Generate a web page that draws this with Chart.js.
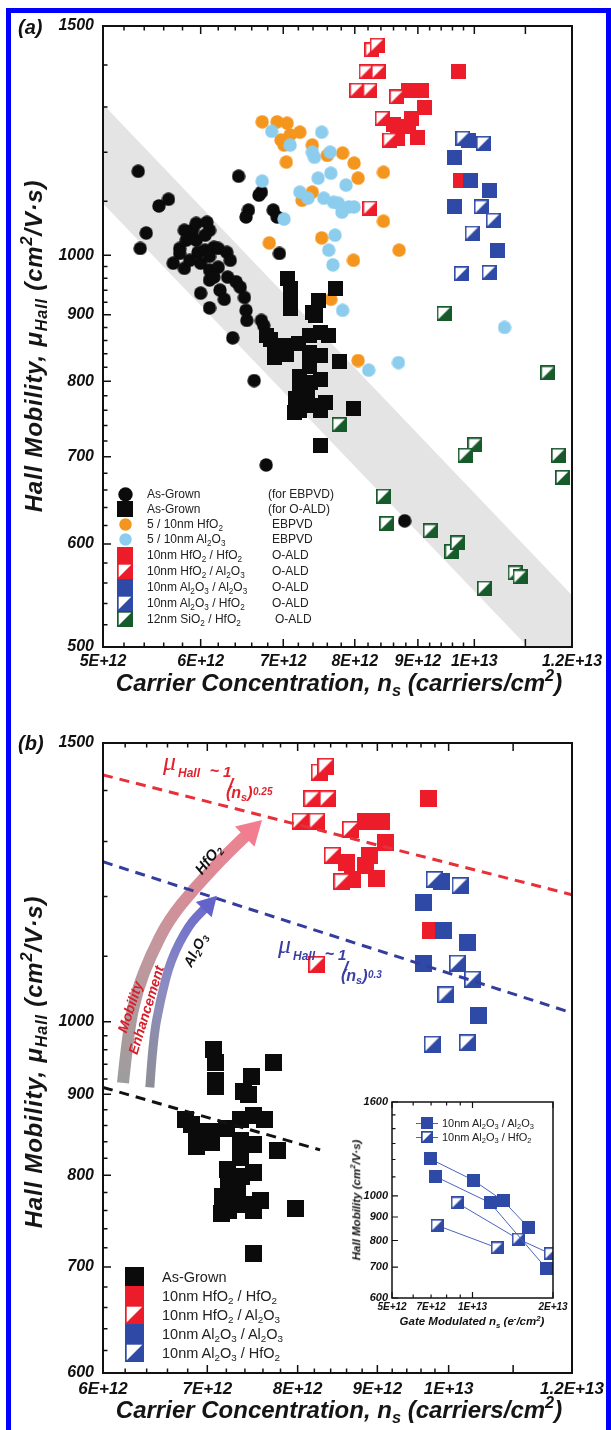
<!DOCTYPE html>
<html><head><meta charset="utf-8">
<script src="https://cdn.jsdelivr.net/npm/chart.js@4.4.1/dist/chart.umd.min.js"></script>
<style>
html,body{margin:0;padding:0;background:#fff}
body{position:relative;width:611px;height:1430px;overflow:hidden;font-family:"Liberation Sans",Arial,sans-serif;color:#111}
#frame{position:absolute;left:6px;top:8px;width:595px;height:1450px;border:5px solid #0000ff;border-bottom:none}
canvas{position:absolute}
.t{position:absolute;white-space:nowrap;line-height:1}
.sb{font-size:0.68em;vertical-align:-0.32em;line-height:0}
.sp{font-size:0.68em;vertical-align:0.6em;line-height:0}
</style></head><body>
<div id="frame"></div>
<canvas id="ca" width="611" height="700" style="left:0;top:0;width:611px;height:700px"></canvas>
<canvas id="cb" width="611" height="730" style="left:0;top:700px;width:611px;height:730px"></canvas>
<canvas id="ci" width="250" height="260" style="left:330px;top:1080px;width:250px;height:260px"></canvas>
<script>
// ================= DATA (carrier concentration cm^-2, Hall mobility cm^2/V.s) =================
const asGrownEBPVD = [[5.34e12,1160],[6.44e12,1150],[6.72e12,1118],[6.69e12,1112],[5.55e12,1091],[5.65e12,1104],[6.56e12,1083],[6.53e12,1070],[6.87e12,1083],[6.92e12,1070],[5.42e12,1040],[5.36e12,1012],[5.82e12,1045],[5.91e12,1045],[5.95e12,1058],[6.07e12,1060],[6.10e12,1045],[6.05e12,1036],[5.77e12,1012],[5.77e12,1003],[5.70e12,986],[5.82e12,977],[5.97e12,1005],[6.05e12,1009],[6.15e12,1014],[6.20e12,1012],[6.30e12,1005],[6.34e12,991],[6.00e12,986],[6.10e12,974],[6.20e12,979],[6.31e12,962],[6.41e12,954],[6.46e12,945],[6.51e12,928],[6.10e12,957],[6.15e12,962],[6.00e12,935],[6.10e12,911],[6.53e12,907],[6.54e12,891],[6.72e12,891],[6.75e12,883],[6.37e12,864],[6.95e12,1003],[6.63e12,801],[6.78e12,690],[8.78e12,625],[5.88e12,991],[5.84e12,1027],[6.22e12,940],[6.27e12,925],[5.95e12,1027],[6.10e12,998]];
const asGrownALD = [[7.06e12,960],[7.09e12,943],[7.09e12,918],[7.09e12,910],[7.47e12,923],[7.39e12,904],[7.44e12,899],[7.72e12,943],[6.78e12,867],[6.84e12,861],[6.89e12,852],[7.04e12,853],[7.20e12,856],[7.35e12,867],[7.50e12,872],[7.62e12,867],[6.89e12,834],[7.04e12,839],[7.35e12,842],[7.50e12,837],[7.77e12,829],[7.35e12,821],[7.21e12,807],[7.22e12,789],[7.36e12,798],[7.50e12,803],[7.16e12,776],[7.32e12,779],[7.39e12,767],[7.57e12,771],[7.22e12,760],[7.50e12,760],[7.15e12,757],[7.98e12,762],[7.50e12,714]];
const hfO2EBPVD = [[6.73e12,1266],[6.92e12,1266],[7.05e12,1263],[7.22e12,1243],[7.09e12,1237],[6.97e12,1226],[7.01e12,1215],[7.39e12,1215],[7.82e12,1198],[7.60e12,1193],[7.99e12,1177],[7.04e12,1179],[8.05e12,1146],[8.44e12,1158],[7.39e12,1118],[7.25e12,1102],[8.44e12,1062],[6.82e12,1022],[7.52e12,1031],[8.69e12,1009],[7.98e12,991],[7.65e12,925],[8.05e12,830]];
const al2O3EBPVD = [[6.85e12,1245],[7.52e12,1243],[7.09e12,1215],[7.39e12,1200],[7.42e12,1189],[7.64e12,1200],[7.47e12,1146],[7.65e12,1156],[7.87e12,1132],[6.73e12,1140],[7.22e12,1118],[7.33e12,1106],[7.55e12,1106],[7.69e12,1098],[7.76e12,1096],[7.81e12,1079],[7.91e12,1089],[7.99e12,1089],[7.01e12,1066],[7.71e12,1036],[7.62e12,1009],[7.68e12,983],[7.82e12,907],[1.058e13,880],[8.68e12,827],[8.21e12,816]];
const hfO2HfO2 = [[9.70e12,1383],[8.84e12,1339],[9.06e12,1339],[9.11e12,1298],[8.89e12,1274],[8.60e12,1261],[8.84e12,1255],[8.67e12,1230],[8.99e12,1232],[9.74e12,1142]];
const hfO2Al2O3 = [[8.26e12,1438],[8.34e12,1450],[8.17e12,1383],[8.36e12,1383],[8.03e12,1339],[8.23e12,1339],[8.65e12,1323],[8.42e12,1274],[8.54e12,1226],[8.23e12,1087]];
const al2O3Al2O3 = [[9.90e12,1226],[9.64e12,1189],[9.92e12,1142],[1.028e13,1122],[9.64e12,1089],[1.045e13,1009]];
const al2O3HfO2 = [[9.79e12,1230],[1.017e13,1219],[1.013e13,1089],[1.036e13,1064],[9.96e12,1040],[9.76e12,968],[1.028e13,970]];
const siO2HfO2 = [[9.45e12,902],[1.147e13,812],[7.77e12,741],[8.44e12,653],[8.49e12,622],[9.21e12,614],[9.59e12,592],[9.69e12,601],[1.001e13,715],[9.83e12,702],[1.079e13,570],[1.089e13,566],[1.019e13,555],[1.170e13,702],[1.179e13,675]];
// shaded band (panel a): upper and lower edges
const bandUpper = [[5e12,1306],[1.2e13,548]];
const bandLower = [[5e12,1096],[1.105e13,500]];
// fit lines (panel b)
const fitHfO2 = [[6e12,1432],[1.2e13,1203]];
const fitAl2O3 = [[6e12,1262],[1.2e13,1013]];
const fitAsGrown = [[6e12,909],[8.27e12,830]];
// enhancement arrows (panel b), path in data space, last point = tip
const arrowHfO2 = [[6.18e12,915],[6.23e12,988],[6.31e12,1047],[6.44e12,1102],[6.61e12,1159],[6.87e12,1215],[7.19e12,1274],[7.59e12,1341]];
const arrowAl2O3 = [[6.43e12,909],[6.46e12,974],[6.53e12,1032],[6.63e12,1094],[6.81e12,1151],[7.10e12,1201]];
// inset: gate-modulated series
const insetAlAlA = [[6.94e12,1204],[1.006e13,1082],[1.302e13,976],[1.616e13,855]];
const insetAlAlB = [[7.25e12,1103],[1.164e13,966],[1.887e13,696]];
const insetAlHfA = [[8.76e12,966],[1.482e13,806],[1.953e13,749]];
const insetAlHfB = [[7.37e12,863],[1.237e13,771]];
// tick labels
const aXLabelVals = [5e12,6e12,7e12,8e12,9e12,1e13,1.2e13];
const aXLabels = ['5E+12','6E+12','7E+12','8E+12','9E+12','1E+13','1.2E+13'];
const aYLabelVals = [500,600,700,800,900,1000,1500];
const aYLabels = ['500','600','700','800','900','1000','1500'];
const bXLabelVals = [6e12,7e12,8e12,9e12,1e13,1.2e13];
const bXLabels = ['6E+12','7E+12','8E+12','9E+12','1E+13','1.2E+13'];
const bYLabelVals = [600,700,800,900,1000,1500];
const bYLabels = ['600','700','800','900','1000','1500'];
const iXLabelVals = [5e12,7e12,1e13,2e13];
const iXLabels = ['5E+12','7E+12','1E+13','2E+13'];
const iYLabelVals = [600,700,800,900,1000,1600];
const iYLabels = ['600','700','800','900','1000','1600'];

// ================= STYLE =================
const C = {black:'#0b0b0b', orange:'#f4961e', light:'#8ccdee', red:'#ec1c2a', blue:'#2f4aa6', green:'#175a2c', band:'#e4e4e4'};
const FF = '"Liberation Sans", Arial, sans-serif';

function marker(kind, color, s){
  const c = document.createElement('canvas'); c.width = s; c.height = s;
  const g = c.getContext('2d');
  if (kind === 'circle') { g.fillStyle = color; g.beginPath(); g.arc(s/2, s/2, s/2 - 0.3, 0, Math.PI*2); g.fill(); }
  else if (kind === 'square') { g.fillStyle = color; g.fillRect(0, 0, s, s); }
  else {
    g.fillStyle = '#fff'; g.fillRect(0, 0, s, s);
    g.fillStyle = color; g.beginPath(); g.moveTo(0, s); g.lineTo(s, s); g.lineTo(s, 0); g.closePath(); g.fill();
    g.strokeStyle = color; g.lineWidth = 1.7; g.strokeRect(0.85, 0.85, s - 1.7, s - 1.7);
  }
  return c;
}

function range(a, b, step, skip){ const out = []; for (let k = Math.round(a/step); k <= Math.round(b/step); k++){ const v = +(k*step).toPrecision(10); if (!skip.includes(v)) out.push(v);} return out; }

function logAxis(min, max, majors, minors, lblVals, lbls, size, isX, font, pad){
  return {
    type: 'logarithmic', min, max,
    afterBuildTicks: s => { s.ticks = majors.map(v => ({value: v, major: true})).concat(minors.map(v => ({value: v, major: false}))).sort((a,b)=>a.value-b.value); },
    afterFit: s => { if (isX) s.height = size; else s.width = size; },
    ticks: { autoSkip: false, maxRotation: 0, minRotation: 0, padding: pad, color: '#111', font,
      callback: v => { const i = lblVals.indexOf(v); return i >= 0 ? lbls[i] : ''; } },
    grid: { display: false, drawTicks: false }, border: { display: false }
  };
}

const frameTicks = {
  id: 'frameTicks',
  beforeDraw(chart, args, o){
    if (o.white){ const a = chart.chartArea, ctx = chart.ctx; ctx.save(); ctx.fillStyle = '#fff'; ctx.fillRect(a.left, a.top, a.right-a.left, a.bottom-a.top); ctx.restore(); }
  },
  afterDraw(chart, args, o){
    const {ctx, chartArea: a} = chart; const x = chart.scales.x, y = chart.scales.y;
    ctx.save(); ctx.strokeStyle = '#111'; ctx.lineWidth = o.tw; ctx.beginPath();
    x.ticks.forEach(t => { const p = x.getPixelForValue(t.value); const L = t.major ? o.maj : o.min;
      ctx.moveTo(p, a.bottom); ctx.lineTo(p, a.bottom - L); ctx.moveTo(p, a.top); ctx.lineTo(p, a.top + L); });
    y.ticks.forEach(t => { const p = y.getPixelForValue(t.value); const L = t.major ? o.maj : o.min;
      ctx.moveTo(a.left, p); ctx.lineTo(a.left + L, p); });
    ctx.stroke();
    ctx.lineWidth = o.fw; ctx.strokeRect(a.left, a.top, a.right - a.left, a.bottom - a.top);
    ctx.restore();
  }
};

const bandPlugin = {
  id: 'band',
  beforeDatasetsDraw(chart, args, o){
    if (!o.upper) return;
    const {ctx, chartArea: a} = chart; const x = chart.scales.x, y = chart.scales.y;
    const P = p => [x.getPixelForValue(p[0]), y.getPixelForValue(p[1])];
    const pts = [P(o.upper[0]), P(o.upper[1]), [a.right, a.bottom], P(o.lower[1]), P(o.lower[0])];
    ctx.save(); ctx.beginPath(); ctx.rect(a.left, a.top, a.right-a.left, a.bottom-a.top); ctx.clip();
    ctx.fillStyle = o.color; ctx.beginPath(); pts.forEach((p,i) => i ? ctx.lineTo(p[0],p[1]) : ctx.moveTo(p[0],p[1])); ctx.closePath(); ctx.fill();
    ctx.restore();
  }
};

const arrowPlugin = {
  id: 'arrows',
  beforeDatasetsDraw(chart, args, o){
    if (!o.list) return;
    const {ctx} = chart; const x = chart.scales.x, y = chart.scales.y;
    o.list.forEach(ar => {
      const pts = ar.path.map(p => [x.getPixelForValue(p[0]), y.getPixelForValue(p[1])]);
      const n = pts.length, tip = pts[n-1], prev = pts[n-2];
      const ang = Math.atan2(tip[1]-prev[1], tip[0]-prev[0]);
      const base = [tip[0] - ar.head*Math.cos(ang), tip[1] - ar.head*Math.sin(ang)];
      const path = pts.slice(0, n-1).concat([base]);
      const grad = ctx.createLinearGradient(pts[0][0], pts[0][1], tip[0], tip[1]);
      ar.stops.forEach(s => grad.addColorStop(s[0], s[1]));
      ctx.save(); ctx.strokeStyle = grad; ctx.lineWidth = ar.width; ctx.lineCap = 'butt';
      ctx.beginPath(); ctx.moveTo(path[0][0], path[0][1]);
      for (let i = 1; i < path.length - 1; i++){ const mx = (path[i][0]+path[i+1][0])/2, my = (path[i][1]+path[i+1][1])/2; ctx.quadraticCurveTo(path[i][0], path[i][1], mx, my); }
      ctx.lineTo(base[0] + Math.cos(ang), base[1] + Math.sin(ang)); ctx.stroke();
      ctx.fillStyle = ar.headColor; ctx.beginPath(); ctx.moveTo(tip[0], tip[1]);
      ctx.lineTo(base[0] + ar.headW/2*Math.sin(ang), base[1] - ar.headW/2*Math.cos(ang));
      ctx.lineTo(base[0] - ar.headW/2*Math.sin(ang), base[1] + ar.headW/2*Math.cos(ang));
      ctx.closePath(); ctx.fill(); ctx.restore();
    });
  }
};

const pts = arr => arr.map(p => ({x: p[0], y: p[1]}));
function sc(data, img){ return {type: 'scatter', data: pts(data), pointStyle: img, pointRadius: 8, pointHoverRadius: 8, borderWidth: 0, backgroundColor: 'rgba(0,0,0,0)'}; }
function dash(data, color){ return {type: 'line', data: pts(data), borderColor: color, borderWidth: 3, borderDash: [10, 7], pointRadius: 0, fill: false, tension: 0}; }
function conn(data, img){ return {type: 'line', data: pts(data), borderColor: '#4a64bd', borderWidth: 1, pointStyle: img, pointRadius: 7, fill: false, tension: 0}; }

const base = {animation: false, responsive: false, devicePixelRatio: 1, events: []};
const tickFont = s => ({family: FF, size: s, style: 'italic', weight: 'bold'});

// ---------- Panel (a) ----------
const mA = {circB: marker('circle', C.black, 14), sqB: marker('square', C.black, 15), circO: marker('circle', C.orange, 14), circL: marker('circle', C.light, 14),
  sqR: marker('square', C.red, 15), hR: marker('half', C.red, 15), sqU: marker('square', C.blue, 15), hU: marker('half', C.blue, 15), hG: marker('half', C.green, 15)};
new Chart(document.getElementById('ca'), {
  type: 'scatter',
  data: {datasets: [sc(siO2HfO2, mA.hG), sc(al2O3HfO2, mA.hU), sc(al2O3Al2O3, mA.sqU), sc(hfO2Al2O3, mA.hR), sc(hfO2HfO2, mA.sqR),
    sc(asGrownALD, mA.sqB), sc(al2O3EBPVD, mA.circL), sc(hfO2EBPVD, mA.circO), sc(asGrownEBPVD, mA.circB)]},
  options: Object.assign({}, base, {
    layout: {padding: {left: 0, right: 39, top: 26, bottom: 0}},
    scales: {
      x: logAxis(5e12, 1.2e13, [5e12,6e12,7e12,8e12,9e12,1e13,1.1e13,1.2e13], range(5.2e12, 9.8e12, 2e11, [6e12,7e12,8e12,9e12]), aXLabelVals, aXLabels, 53, true, tickFont(16), 5),
      y: logAxis(500, 1500, [500,600,700,800,900,1000,1500], range(520, 980, 20, [600,700,800,900]).concat([1100,1200,1300,1400]), aYLabelVals, aYLabels, 103, false, tickFont(16), 9)
    },
    plugins: {legend: {display: false}, tooltip: {enabled: false},
      frameTicks: {tw: 1.5, fw: 2, maj: 8, min: 4.5}, band: {upper: bandUpper, lower: bandLower, color: C.band}}
  }),
  plugins: [frameTicks, bandPlugin]
});

// ---------- Panel (b) ----------
const mB = {sqB: marker('square', C.black, 17), sqR: marker('square', C.red, 17), hR: marker('half', C.red, 17), sqU: marker('square', C.blue, 17), hU: marker('half', C.blue, 17)};
new Chart(document.getElementById('cb'), {
  type: 'scatter',
  data: {datasets: [dash(fitHfO2, '#e8303a'), dash(fitAl2O3, '#343d9e'), dash(fitAsGrown, '#111'),
    sc(al2O3HfO2, mB.hU), sc(al2O3Al2O3, mB.sqU), sc(hfO2Al2O3, mB.hR), sc(hfO2HfO2, mB.sqR), sc(asGrownALD, mB.sqB)]},
  options: Object.assign({}, base, {
    layout: {padding: {left: 0, right: 39, top: 43, bottom: 0}},
    scales: {
      x: logAxis(6e12, 1.2e13, [6e12,7e12,8e12,9e12,1e13,1.1e13,1.2e13], range(6.2e12, 9.8e12, 2e11, [7e12,8e12,9e12]), bXLabelVals, bXLabels, 57, true, tickFont(17), 6),
      y: logAxis(600, 1500, [600,700,800,900,1000,1500], range(620, 980, 20, [700,800,900]).concat([1100,1200,1300,1400]), bYLabelVals, bYLabels, 103, false, tickFont(16), 9)
    },
    plugins: {legend: {display: false}, tooltip: {enabled: false},
      frameTicks: {tw: 1.5, fw: 2, maj: 8, min: 4.5},
      arrows: {list: [
        {path: arrowHfO2, width: 12, head: 24, headW: 28, headColor: '#f27d8e', stops: [[0,'#9d9d9d'],[0.45,'#c3979d'],[1,'#f2808f']]},
        {path: arrowAl2O3, width: 9, head: 19, headW: 22, headColor: '#6463cb', stops: [[0,'#8e8e96'],[0.5,'#8c8cc2'],[1,'#6767cf']]}
      ]}}
  }),
  plugins: [frameTicks, arrowPlugin]
});

// ---------- Inset ----------
const mI = {sq: marker('square', C.blue, 13), h: marker('half', C.blue, 13)};
new Chart(document.getElementById('ci'), {
  type: 'scatter',
  data: {datasets: [conn(insetAlAlA, mI.sq), conn(insetAlAlB, mI.sq), conn(insetAlHfA, mI.h), conn(insetAlHfB, mI.h)]},
  options: Object.assign({}, base, {
    layout: {padding: {left: 0, right: 27, top: 22, bottom: 0}},
    scales: {
      x: logAxis(5e12, 2e13, [5e12,1e13,2e13], [6e12,7e12,8e12,9e12], iXLabelVals, iXLabels, 42, true, tickFont(10), 3),
      y: logAxis(600, 1600, [600,700,800,900,1000,1600], [1100,1200,1300,1400,1500], iYLabelVals, iYLabels, 62, false, tickFont(11), 4)
    },
    plugins: {legend: {display: false}, tooltip: {enabled: false}, frameTicks: {tw: 1.2, fw: 1.5, maj: 6, min: 3.5, white: true}}
  }),
  plugins: [frameTicks]
});

// ================= TEXT OVERLAYS =================
function T(html, x, y, css, mode, rot){
  const d = document.createElement('div'); d.className = 't'; d.innerHTML = html;
  d.style.cssText += `left:${x}px;top:${y}px;` + (css || '');
  if (mode === 'c') d.style.transform = 'translate(-50%,-50%)' + (rot ? ` rotate(${rot}deg)` : '');
  else if (mode === 'l') d.style.transform = 'translate(0,-50%)';
  document.body.appendChild(d); return d;
}
const S = s => `<span class="sb">${s}</span>`, P = s => `<span class="sp">${s}</span>`;
const titleCss = 'font-size:24px;font-weight:bold;font-style:italic;color:#151515;';
const yTitleCss = titleCss + 'letter-spacing:0.8px;';
T('(a)', 18, 27, 'font-size:20px;font-weight:bold;font-style:italic;', 'l');
T('(b)', 18, 743, 'font-size:20px;font-weight:bold;font-style:italic;', 'l');
T(`Carrier Concentration, n${S('s')} (carriers/cm${P('2')})`, 339, 683, titleCss, 'c');
T(`Carrier Concentration, n${S('s')} (carriers/cm${P('2')})`, 339, 1410, titleCss, 'c');
T(`Hall Mobility, μ${S('Hall')} (cm${P('2')}/V·s)`, 34, 346, yTitleCss, 'c', -90);
T(`Hall Mobility, μ${S('Hall')} (cm${P('2')}/V·s)`, 34, 1062, yTitleCss, 'c', -90);

function legendMarker(kind, color, s, cx, cy){
  const c = marker(kind, color, s); c.style.left = (cx - s/2) + 'px'; c.style.top = (cy - s/2) + 'px'; document.body.appendChild(c);
}
// legend (a)
const legA = [
  ['circle', C.black, 15, 'As-Grown', '(for EBPVD)', 268, 494],
  ['square', C.black, 16, 'As-Grown', '(for O-ALD)', 268, 509],
  ['circle', C.orange, 13, `5 / 10nm HfO${S(2)}`, 'EBPVD', 272, 524],
  ['circle', C.light, 13, `5 / 10nm Al${S(2)}O${S(3)}`, 'EBPVD', 272, 539],
  ['square', C.red, 16, `10nm HfO${S(2)} / HfO${S(2)}`, 'O-ALD', 272, 555],
  ['half', C.red, 16, `10nm HfO${S(2)} / Al${S(2)}O${S(3)}`, 'O-ALD', 272, 571],
  ['square', C.blue, 16, `10nm Al${S(2)}O${S(3)} / Al${S(2)}O${S(3)}`, 'O-ALD', 272, 587],
  ['half', C.blue, 16, `10nm Al${S(2)}O${S(3)} / HfO${S(2)}`, 'O-ALD', 272, 603],
  ['half', C.green, 16, `12nm SiO${S(2)} / HfO${S(2)}`, 'O-ALD', 275, 619]
];
legA.forEach(r => { legendMarker(r[0], r[1], r[2], 125, r[6]); T(r[3], 147, r[6], 'font-size:12px;color:#222;', 'l'); T(r[4], r[5], r[6], 'font-size:12px;color:#222;', 'l'); });
// legend (b)
const legB = [
  ['square', C.black, 'As-Grown'],
  ['square', C.red, `10nm HfO${S(2)} / HfO${S(2)}`],
  ['half', C.red, `10nm HfO${S(2)} / Al${S(2)}O${S(3)}`],
  ['square', C.blue, `10nm Al${S(2)}O${S(3)} / Al${S(2)}O${S(3)}`],
  ['half', C.blue, `10nm Al${S(2)}O${S(3)} / HfO${S(2)}`]
];
legB.forEach((r, i) => { const cy = 1276.5 + 19*i; legendMarker(r[0], r[1], 19, 134.5, cy); T(r[2], 162, cy, 'font-size:14.5px;color:#222;', 'l'); });
// inset legend
[['square', `10nm Al${S(2)}O${S(3)} / Al${S(2)}O${S(3)}`, 1123], ['half', `10nm Al${S(2)}O${S(3)} / HfO${S(2)}`, 1137]].forEach(r => {
  const c = document.createElement('canvas'); c.width = 22; c.height = 14; const g = c.getContext('2d');
  g.strokeStyle = '#4a64bd'; g.lineWidth = 1; g.beginPath(); g.moveTo(0, 7.5); g.lineTo(22, 7.5); g.stroke();
  g.drawImage(marker(r[0], C.blue, 12), 5, 1);
  c.style.left = '416px'; c.style.top = (r[2] - 7) + 'px'; document.body.appendChild(c);
  T(r[1], 442, r[2], 'font-size:11px;color:#222;', 'l');
});
// inset titles
T(`Hall Mobility (cm${P('2')}/V·s)`, 357, 1200, 'font-size:11.5px;font-weight:bold;font-style:italic;', 'c', -90);
T(`Gate Modulated n${S('s')} (e${P('-')}/cm${P('2')})`, 472, 1322, 'font-size:11.5px;font-weight:bold;font-style:italic;', 'c');

// fit formulas
function formula(x0, y0, color, expo){
  const c = `color:${color};`;
  T('μ', x0, y0, c + 'font-family:"Liberation Serif",serif;font-style:italic;font-size:26px;');
  T('Hall', x0 + 15, y0 + 18, c + 'font-size:12px;font-weight:bold;font-style:italic;');
  T('~', x0 + 47, y0 + 14, c + 'font-size:16px;font-weight:bold;');
  T('1', x0 + 60, y0 + 15, c + 'font-size:15px;font-weight:bold;font-style:italic;');
  T('/', x0 + 65, y0 + 27, c + 'font-size:18px;font-weight:bold;font-style:italic;');
  T(`(n${S('s')})`, x0 + 63, y0 + 36, c + 'font-size:16px;font-weight:bold;font-style:italic;');
  T(expo, x0 + 90, y0 + 38, c + 'font-size:10px;font-weight:bold;font-style:italic;');
}
formula(163, 749, '#e2232e', '0.25');
formula(278, 932, '#3b3fa3', '0.3');
// arrow labels
T(`HfO${S(2)}`, 208, 859, 'font-size:15px;font-weight:bold;font-style:italic;color:#111;', 'c', -52);
T(`Al${S(2)}O${S(3)}`, 195, 950, 'font-size:14px;font-weight:bold;font-style:italic;color:#111;', 'c', -63);
T('Mobility', 130, 1007, 'font-size:14px;font-weight:bold;font-style:italic;color:#d8202c;', 'c', -72);
T('Enhancement', 146, 1010, 'font-size:14px;font-weight:bold;font-style:italic;color:#d8202c;', 'c', -73);
</script></body></html>
